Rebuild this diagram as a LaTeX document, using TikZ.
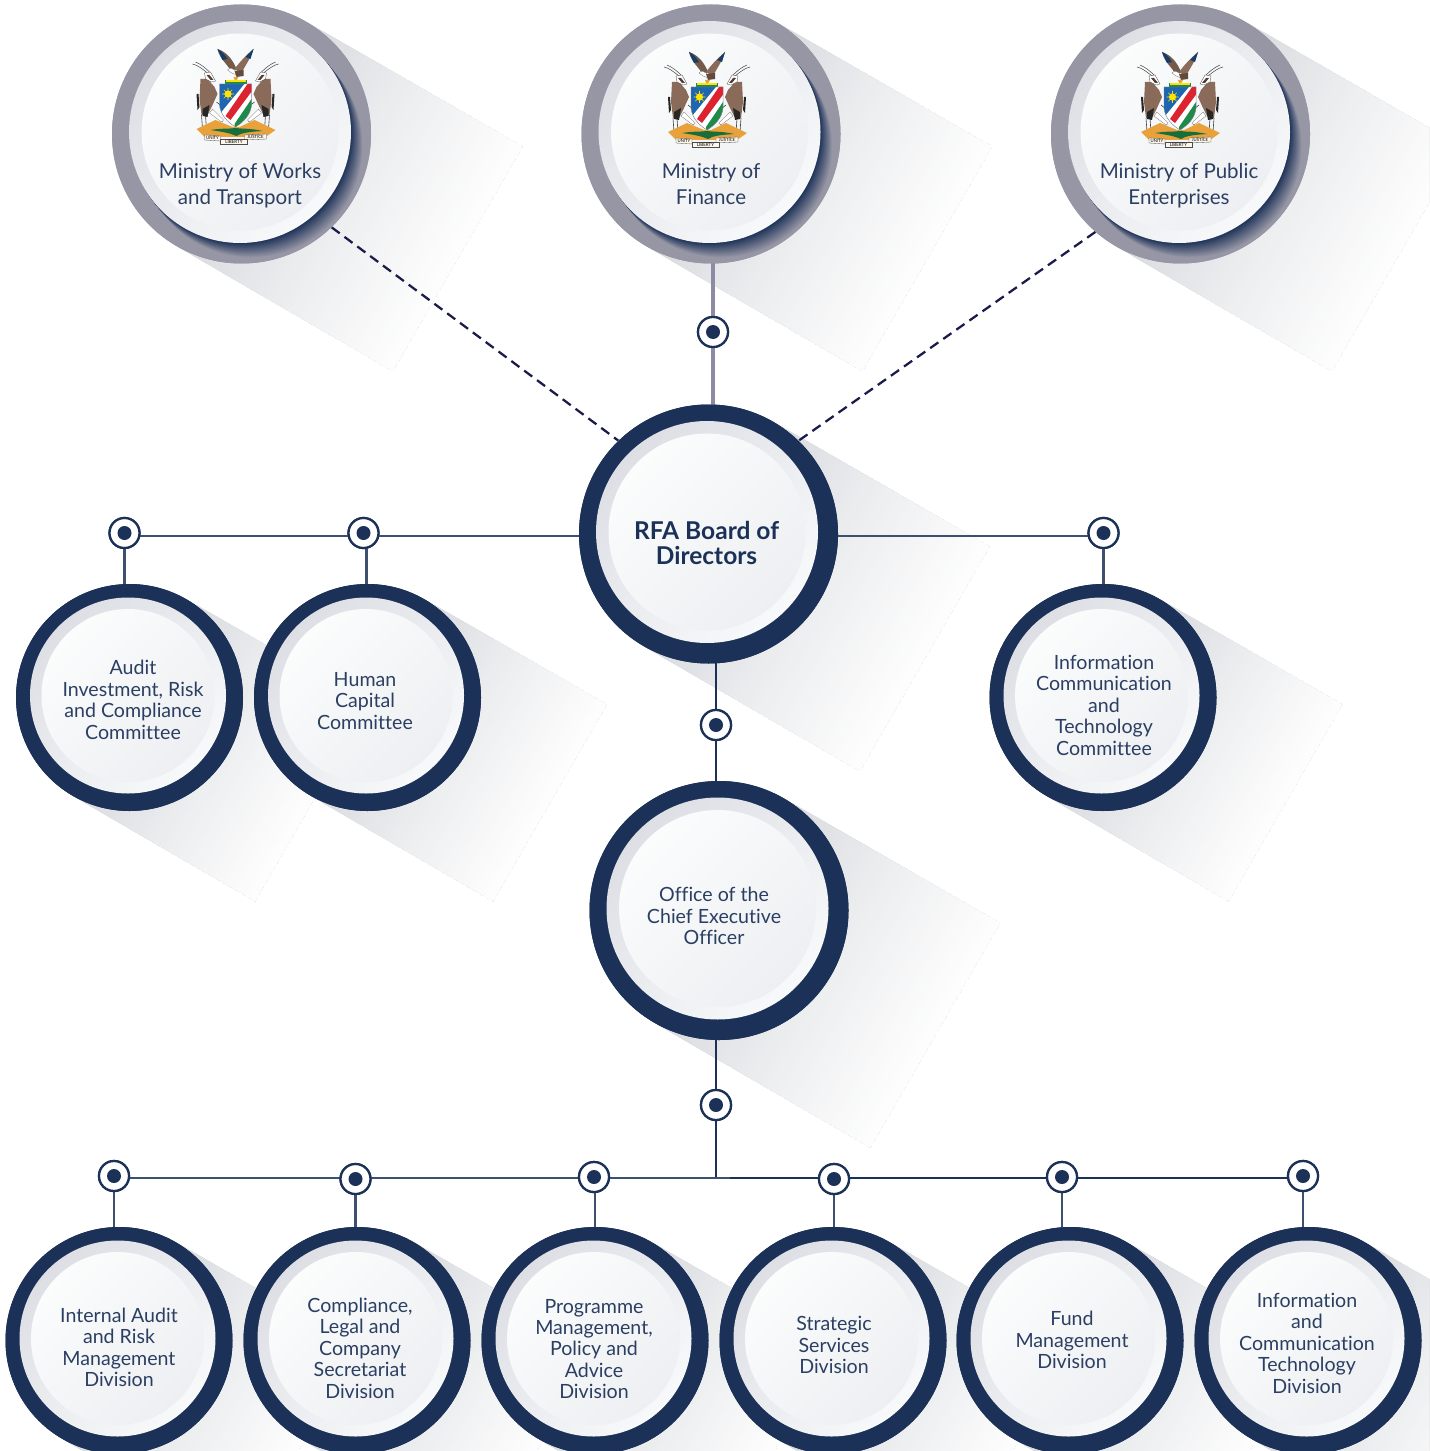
\documentclass[tikz,border=0pt]{standalone}
\usepackage{fontspec}
\setmainfont[Ligatures=CommonOff]{Lato}
\definecolor{navy}{HTML}{1C3157}
\definecolor{ink}{HTML}{2B3F63}
\definecolor{ringgray}{HTML}{9696A5}
\definecolor{linegray}{HTML}{8D8BA3}
\definecolor{dashink}{HTML}{1B1B4B}
\definecolor{sh1}{HTML}{D9DADE}
\definecolor{shm}{HTML}{EDEEF0}
\definecolor{sh2}{HTML}{FEFEFE}
\definecolor{lightA}{HTML}{DEDFE5}
\definecolor{lightB}{HTML}{F8F9FA}
\definecolor{innerA}{HTML}{FBFCFC}
\definecolor{innerB}{HTML}{EEEFF2}
\definecolor{cblue}{HTML}{1F66B0}
\definecolor{cred}{HTML}{DC2430}
\definecolor{cgreen}{HTML}{1E8A4A}
\definecolor{cbrown}{HTML}{8A6A58}
\definecolor{corange}{HTML}{E9A23B}
\tikzset{
  ring/.style={circle,inner sep=0pt,minimum size=#1*0.75pt,fill=navy},
  lbl/.style={text=ink,align=center,inner sep=0pt,font=\fontsize{14.7pt}{16.1pt}\selectfont},
  lblbig/.style={text=ink,align=center,inner sep=0pt,font=\fontsize{15.4pt}{19.5pt}\selectfont},
  lblbold/.style={text=navy,align=center,inner sep=0pt,font=\fontsize{18.4pt}{18.8pt}\selectfont\bfseries},
  jring/.style={circle,inner sep=0pt,minimum size=30*0.75pt,fill=white,draw=navy,line width=1.7pt},
  jcore/.style={circle,inner sep=0pt,minimum size=14*0.75pt,fill=navy},
  conn/.style={draw=navy,line width=2.1pt},
  connthin/.style={draw=navy!85!white,line width=1.7pt},
  dashconn/.style={draw=dashink,line width=1.7pt,dash pattern=on 7.5pt off 4.5pt},
}
% long shadow drawn as overlapping solid strips: centre x, centre y, radius, length
\newcommand{\longshade}[4]{%
  \begin{scope}[shift={(#1,#2)},rotate=-30]
    \foreach \s in {0,...,47}{
      \pgfmathsetmacro{\xs}{(#3+#4)*\s/48}
      \pgfmathsetmacro{\pa}{max(0,100-\s*100/24)}
      \pgfmathsetmacro{\pb}{max(0,min(100,(48-\s)*100/24))}
      \ifnum\s<24
        \fill[sh1!\pa!shm] (\xs,-#3) rectangle (#3+#4,#3);
      \else
        \fill[shm!\pb!sh2] (\xs,-#3) rectangle (#3+#4,#3);
      \fi
    }
  \end{scope}}
% discs inside a ring: centre x, centre y, light radius, inner radius
\newcommand{\discs}[4]{%
  \shade[top color=lightA,bottom color=lightB,shading angle=45] (#1-1.5,#2-2) circle[radius=#3];
  \shade[top color=innerA,bottom color=innerB,shading angle=45] (#1-1.5,#2-2) circle[radius=#4];}
% grey ring with navy crescent
\newcommand{\crescent}[2]{%
  \begin{scope}
    \clip (#1,#2) circle[radius=129.5];
    \foreach \t in {24,...,1}{
      \pgfmathsetmacro{\mixv}{100-\t*100/24}
      \fill[navy!\mixv!ringgray] (#1-1.5+0.5*\t,#2-2+0.62*\t) circle[radius=111];
    }
  \end{scope}}
\newcommand{\jdot}[3]{\node[jring] (#1) at (#2,#3) {}; \node[jcore] (#1c) at (#1.center) {};}
% half of the supporters
\newcommand{\oryx}{%
  \draw[black!70,line width=.4pt] (-43,-33) .. controls (-38,-32) and (-33,-28) .. (-28,-24);
  \draw[black!70,line width=.4pt] (-40,-35) .. controls (-35,-33) and (-30,-29) .. (-26,-25);
  \draw[black!75,line width=.45pt] (-34,18) -- (-33,32) (-30,18) -- (-29,33) (-22,14) -- (-13,25) (-19,5) -- (-14,9);
  \fill[white,draw=black!60,line width=.2pt] (-26,16) -- (-14,25) -- (-12,23) -- (-23,12) -- cycle;
  \fill[cbrown] (-35,-18) -- (-28,-18) -- (-21,-10) -- (-18,-3) -- (-23,8) -- (-28,18) -- (-34,18) -- (-36,2) -- cycle;
  \fill[white,draw=black!70,line width=.25pt] (-31,-24) -- (-25,-25) -- (-20,-16) -- (-24,-15) -- (-30,-18) -- cycle;
  \fill[cbrown!60!black] (-29,-22) -- (-26,-22) -- (-22,-17) -- (-25,-17) -- cycle;
  \fill[black!85] (-39,-3) -- (-37,-3) -- (-36,10) -- (-38,13) -- cycle;
  \fill[black!85] (-33,12) -- (-26,8) -- (-28,20) -- (-33,19) -- cycle;}
\newcommand{\crest}[2]{%
  \begin{scope}[shift={(#1,#2)}]
    \oryx
    \begin{scope}[xscale=-1]\oryx\end{scope}
    % eagle
    \fill[cbrown!85!black] (-18,-48) .. controls (-9,-45) and (-3,-38) .. (1,-28) -- (-4,-25) .. controls (-8,-33) and (-16,-38) .. cycle;
    \fill[cbrown] (18,-48) .. controls (16,-40) and (10,-32) .. (6,-24) -- (-1,-28) .. controls (5,-36) and (11,-42) .. cycle;
    \fill[cblue!60!black] (-18,-48) .. controls (-14,-46) and (-11,-43) .. (-8,-38) -- (-13,-37) -- cycle;
    \fill[cblue!60!black] (18,-48) -- (15,-38) -- (10,-40) -- cycle;
    \fill[white,draw=black!60,line width=.2pt] (-8,-27) .. controls (-6,-30) and (-2,-29) .. (2,-24) .. controls (4,-21) and (-2,-22) .. (-8,-27) -- cycle;
    \fill[cbrown!70!black] (-1,-26) -- (8,-27) -- (8,-21) -- (1,-20) -- cycle;
    \fill[corange] (-2,-20) -- (3,-20) -- (0,-15) -- cycle;
    % crown
    \fill[cgreen] (-11,-17) rectangle (11,-12);
    \fill[yellow!85!orange] (-10,-17) rectangle (10,-15);
    % shield
    \begin{scope}
      \clip (-16,-13) -- (16,-13) -- (16,8) .. controls (15,18) and (8,25) .. (0,30) .. controls (-8,25) and (-15,18) .. (-16,8) -- cycle;
      \fill[cblue] (-18,-14) rectangle (18,32);
      \fill[white] (-14,15) -- (9,-13) -- (18,-13) -- (18,32) -- (-14,32) -- cycle;
      \fill[cred] (-10,19) -- (12,-13) -- (18,-13) -- (18,-8) -- (-5,23) -- cycle;
      \fill[cgreen] (-1,27) -- (16,2) -- (18,2) -- (18,34) -- (-1,34) -- cycle;
    \end{scope}
    \fill[yellow!85!orange] (-7.5,-3) circle[radius=3.6];
    \draw[yellow!85!orange,line width=.45pt] (-7.5,-3) ++(0:6) -- ++(180:12) (-7.5,-3) ++(90:6) -- ++(-90:12) (-7.5,-3) ++(45:6) -- ++(225:12) (-7.5,-3) ++(135:6) -- ++(-45:12);
    \draw[black!50,line width=.25pt] (-16,-13) -- (16,-13) -- (16,8) .. controls (15,18) and (8,25) .. (0,30) .. controls (-8,25) and (-15,18) .. (-16,8) -- cycle;
    % base
    \fill[corange] (-39,32) -- (-20,23) -- (-3,30) -- (4,30) -- (19,23) -- (40,33) -- (30,40) -- (-31,40) -- cycle;
    \fill[cgreen!80!black] (-25,33) .. controls (-12,31) and (-6,32) .. (0,31) .. controls (6,32) and (14,31) .. (27,34) .. controls (12,35) and (6,36) .. (1,39) .. controls (-6,36) and (-12,35) .. (-25,33) -- cycle;
    % ribbon
    \path[fill=white!90!corange,draw=black!70,line width=.25pt] (-31,38) -- (-15,39) -- (-15,44) -- (-31,43) -- cycle;
    \path[fill=white!90!corange,draw=black!70,line width=.25pt] (31,37) -- (9,38) -- (9,43) -- (31,42) -- cycle;
    \path[fill=white!90!corange,draw=black!70,line width=.25pt] (-15,42) -- (12,42) -- (12,47) -- (-15,47) -- cycle;
    \node[inner sep=0pt,text=black,font=\fontsize{3.4pt}{4pt}\selectfont\rmfamily] (rl) at (-1.5,44.6) {LIBERTY};
    \node[inner sep=0pt,text=black,font=\fontsize{3.2pt}{4pt}\selectfont\rmfamily] (ru) at (-23,41) {UNITY};
    \node[inner sep=0pt,text=black,font=\fontsize{3.2pt}{4pt}\selectfont\rmfamily] (rj) at (20,40) {JUSTICE};
  \end{scope}}
\begin{document}
\begin{tikzpicture}[x=0.75pt,y=-0.75pt]
\useasboundingbox (0,0) rectangle (1429,1451);
\clip (0,0) rectangle (1429,1451);
\fill[white] (0,0) rectangle (1429,1451);

% long shadows
\longshade{241.5}{134}{129.5}{120}
\longshade{711}{134}{129.5}{120}
\longshade{1180.5}{134}{129.5}{120}
\longshade{708.5}{534}{129.5}{120}
\longshade{719}{910.5}{129.5}{120}
\longshade{129.5}{697.5}{113.5}{97}
\longshade{367.5}{697.5}{113.5}{97}
\longshade{1103}{697.5}{113.5}{97}
\longshade{119}{1340.5}{113.5}{97}
\longshade{357}{1340.5}{113.5}{97}
\longshade{595}{1340.5}{113.5}{97}
\longshade{833}{1340.5}{113.5}{97}
\longshade{1070}{1340.5}{113.5}{97}
\longshade{1308}{1340.5}{113.5}{97}

% main rings as named nodes
\node[ring=259,fill=ringgray] (mw) at (241.5,134) {};
\node[ring=259,fill=ringgray] (mf) at (711,134) {};
\node[ring=259,fill=ringgray] (mp) at (1180.5,134) {};
\node[ring=259] (rfa) at (708.5,534) {};
\node[ring=259] (ceo) at (719,910.5) {};
\node[ring=227] (aud) at (129.5,697.5) {};
\node[ring=227] (hum) at (367.5,697.5) {};
\node[ring=227] (ict) at (1103,697.5) {};
\node[ring=227] (d1) at (119,1340.5) {};
\node[ring=227] (d2) at (357,1340.5) {};
\node[ring=227] (d3) at (595,1340.5) {};
\node[ring=227] (d4) at (833,1340.5) {};
\node[ring=227] (d5) at (1070,1340.5) {};
\node[ring=227] (d6) at (1308,1340.5) {};

% junction dots
\jdot{j1}{713}{332}
\jdot{j2}{124.5}{533}
\jdot{j3}{363.5}{533}
\jdot{j4}{1103.5}{533}
\jdot{j5}{716}{725}
\jdot{j6}{716}{1105}
\jdot{k1}{114}{1176}
\jdot{k2}{355.5}{1179}
\jdot{k3}{594}{1177}
\jdot{k4}{834}{1179}
\jdot{k5}{1062}{1177}
\jdot{k6}{1303}{1176}
\coordinate (bus) at (716,1178);
\coordinate (busL) at (730,1178);
\coordinate (rh) at (710,536);

% connectors
\draw[dashconn] (mw.-46) -- (rfa.134);
\draw[dashconn] (mp.-131) -- (rfa.46);
\draw[draw=linegray,line width=2.4pt] (mf.center -| j1) -- (rfa.center -| j1);
\draw[connthin] (j2.center |- rh) -- (rh);
\draw[connthin] (rh) -- (j4.center |- rh);
\draw[connthin] (j2.center) -- (aud.center -| j2);
\draw[connthin] ([xshift=2.25pt]j3.center) -- ([xshift=2.25pt]j3.center |- hum.center);
\draw[connthin] (j4.center) -- (ict.center -| j4);
\draw[conn] (j5.center |- rfa.center) -- (j5.center |- ceo.center);
\draw[conn] (j6.center |- ceo.center) -- (bus);
\draw[connthin] (k1.center |- bus) -- (busL);
\draw[conn] (busL) -- (k6.center |- bus);
\draw[connthin] (k1.center) -- (k1.center |- d1.center);
\draw[connthin] (k2.center) -- (k2.center |- d2.center);
\draw[connthin] ([xshift=.75pt]k3.center) -- ([xshift=.75pt]k3.center |- d3.center);
\draw[connthin] (k4.center) -- (k4.center |- d4.center);
\draw[connthin] (k5.center) -- (k5.center |- d5.center);
\draw[connthin] (k6.center) -- (k6.center |- d6.center);

% rings again above the connectors, then the inner discs
\fill[ringgray] (mw.center) circle[radius=129.5];
\fill[ringgray] (mf.center) circle[radius=129.5];
\fill[ringgray] (mp.center) circle[radius=129.5];
\crescent{241.5}{134}
\crescent{711}{134}
\crescent{1180.5}{134}
\fill[navy] (rfa.center) circle[radius=129.5];
\fill[navy] (ceo.center) circle[radius=129.5];
\fill[navy] (aud.center) circle[radius=113.5];
\fill[navy] (hum.center) circle[radius=113.5];
\fill[navy] (ict.center) circle[radius=113.5];
\fill[navy] (d1.center) circle[radius=113.5];
\fill[navy] (d2.center) circle[radius=113.5];
\fill[navy] (d3.center) circle[radius=113.5];
\fill[navy] (d4.center) circle[radius=113.5];
\fill[navy] (d5.center) circle[radius=113.5];
\fill[navy] (d6.center) circle[radius=113.5];

\discs{241.5}{134}{111}{98.5}
\discs{711}{134}{111}{98.5}
\discs{1180.5}{134}{111}{98.5}
\discs{708.5}{534}{111}{98.5}
\discs{719}{910.5}{111}{98.5}
\discs{129.5}{697.5}{98}{86.5}
\discs{367.5}{697.5}{98}{86.5}
\discs{1103}{697.5}{98}{86.5}
\discs{119}{1340.5}{98}{86.5}
\discs{357}{1340.5}{98}{86.5}
\discs{595}{1340.5}{98}{86.5}
\discs{833}{1340.5}{98}{86.5}
\discs{1070}{1340.5}{98}{86.5}
\discs{1308}{1340.5}{98}{86.5}

% junction dots above the lines
\foreach \jn in {j1,j2,j3,j4,j5,j6,k1,k2,k3,k4,k5,k6}{
  \node[jring] at (\jn.center) {}; \node[jcore] at (\jn.center) {};
}

% crests
\crest{235.5}{97}
\crest{707}{100}
\crest{1180}{100}

% labels
\node[lblbig] (t1) at (240,186) {Ministry of Works\\and Transport};
\node[lblbig] (t2) at (711,184) {Ministry of\\Finance};
\node[lblbig] (t3) at (1179,186) {Ministry of Public\\Enterprises};
\node[lblbold] (t4) at (706.5,543) {RFA Board of\\Directors};
\node[lbl] (t5) at (133,700) {Audit\\Investment, Risk\\and Compliance\\Committee};
\node[lbl] (t6) at (365,701) {Human\\Capital\\Committee};
\node[lbl] (t7) at (1104,705) {Information\\Communication\\and\\Technology\\Committee};
\node[lbl] (t8) at (714,916) {Office of the\\Chief Executive\\Officer};
\node[lbl] (t9) at (119,1347.5) {Internal Audit\\and Risk\\Management\\Division};
\node[lbl] (t10) at (360,1348) {Compliance,\\Legal and\\Company\\Secretariat\\Division};
\node[lbl] (t11) at (594,1349) {Programme\\Management,\\Policy and\\Advice\\Division};
\node[lbl] (t12) at (834,1345) {Strategic\\Services\\Division};
\node[lbl] (t13) at (1072,1340) {Fund\\Management\\Division};
\node[lbl] (t14) at (1307,1343) {Information\\and\\Communication\\Technology\\Division};
\end{tikzpicture}
\end{document}
